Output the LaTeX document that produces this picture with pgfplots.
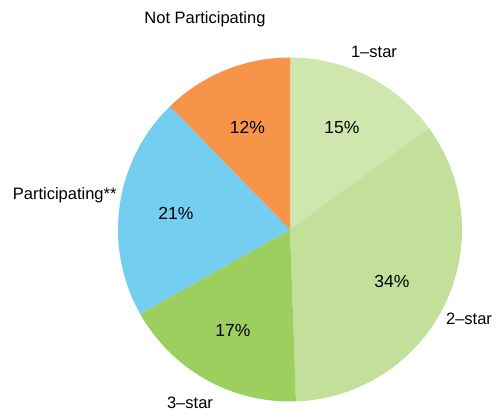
\documentclass[border=0pt]{standalone}
\usepackage{pgfplots}
\pgfplotsset{compat=1.18}
\usepackage{pgfplotstable}
\usepackage{fontspec}
\setmainfont{Liberation Sans}
\definecolor{cA}{HTML}{CFE6AF}
\definecolor{cB}{HTML}{C3E09B}
\definecolor{cC}{HTML}{9DCF5E}
\definecolor{cD}{HTML}{74CEF0}
\definecolor{cE}{HTML}{F6944A}
\pgfplotstableread{
value
15.0
34.5
17.4
20.9
12.3
}\piedata
\begin{document}
\begin{tikzpicture}
\pgfplotstablegetelem{0}{value}\of\piedata \pgfmathsetmacro\vA{\pgfplotsretval}
\pgfplotstablegetelem{1}{value}\of\piedata \pgfmathsetmacro\vB{\pgfplotsretval}
\pgfplotstablegetelem{2}{value}\of\piedata \pgfmathsetmacro\vC{\pgfplotsretval}
\pgfplotstablegetelem{3}{value}\of\piedata \pgfmathsetmacro\vD{\pgfplotsretval}
\pgfplotstablegetelem{4}{value}\of\piedata \pgfmathsetmacro\vE{\pgfplotsretval}
\pgfmathsetmacro\tot{\vA+\vB+\vC+\vD+\vE}
\pgfmathsetmacro\aA{90}
\pgfmathsetmacro\aB{\aA-360*\vA/\tot}
\pgfmathsetmacro\aC{\aB-360*\vB/\tot}
\pgfmathsetmacro\aD{\aC-360*\vC/\tot}
\pgfmathsetmacro\aE{\aD-360*\vD/\tot}
\pgfmathsetmacro\aF{\aE-360*\vE/\tot}
\begin{axis}[x=1pt,y=1pt,xmin=0,xmax=498,ymin=0,ymax=410,hide axis,clip=false,
  anchor=origin, at={(0,0)}]
\fill[cA] (axis cs:290,180.5) -- ++(\aA:172pt) arc[start angle=\aA, end angle=\aB, radius=172pt] -- cycle;
\fill[cB] (axis cs:290,180.5) -- ++(\aB:172pt) arc[start angle=\aB, end angle=\aC, radius=172pt] -- cycle;
\fill[cC] (axis cs:290,180.5) -- ++(\aC:172pt) arc[start angle=\aC, end angle=\aD, radius=172pt] -- cycle;
\fill[cD] (axis cs:290,180.5) -- ++(\aD:172pt) arc[start angle=\aD, end angle=\aE, radius=172pt] -- cycle;
\fill[cE] (axis cs:290,180.5) -- ++(\aE:172pt) arc[start angle=\aE, end angle=\aF, radius=172pt] -- cycle;
\begin{scope}[every node/.style={font=\fontsize{17.5}{21}\selectfont, inner sep=0pt}]
\node at (axis cs:342,282) {15\%};
\node at (axis cs:392,129) {34\%};
\node at (axis cs:233,80) {17\%};
\node at (axis cs:176,197) {21\%};
\node at (axis cs:247.5,283) {12\%};
\end{scope}
\begin{scope}[every node/.style={font=\fontsize{16.5}{20}\selectfont, inner sep=0pt}]
\node at (axis cs:374,358) {1--star};
\node at (axis cs:469,91) {2--star};
\node[anchor=base] at (axis cs:190,2) {3--star};
\node at (axis cs:64.7,215) {Participating**};
\node at (axis cs:205,391) {Not Participating};
\end{scope}
\end{axis}
\pgfresetboundingbox
\path (0,0) rectangle (498pt,410pt);
\end{tikzpicture}
\end{document}
